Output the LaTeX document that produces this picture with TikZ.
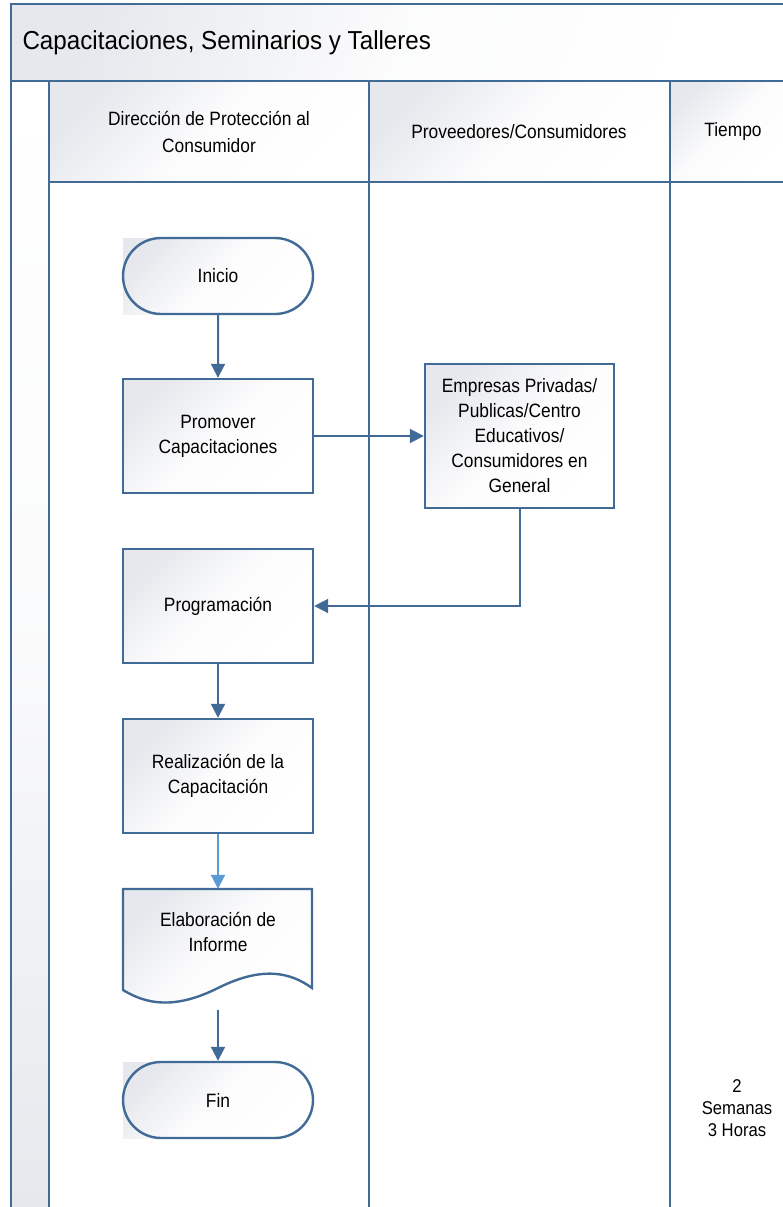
\documentclass[tikz,border=0pt]{standalone}
\usepackage{fontspec}
\setmainfont[FakeStretch=0.9]{Liberation Sans}
\newfontfamily\titlefont[FakeStretch=0.93]{Liberation Sans}
\usetikzlibrary{arrows.meta,shapes.misc}
\definecolor{lineblue}{RGB}{65,106,150}
\definecolor{lightblue}{RGB}{91,155,213}
\definecolor{boxgray}{RGB}{230,232,237}
\tikzset{
  shadefill/.style={top color=boxgray, bottom color=white, middle color=white!88!boxgray, shading angle=45},
  procbox/.style={draw=lineblue, line width=2.4pt, shadefill, minimum width=190pt, minimum height=114pt, inner sep=0pt, align=center, font=\fontsize{19.3}{25}\selectfont},
  termbox/.style={rounded rectangle, draw=lineblue, line width=2.4pt, shadefill, minimum width=190pt, minimum height=76pt, inner sep=0pt, align=center, font=\fontsize{19.3}{25}\selectfont},
  lanetext/.style={align=center, font=\fontsize{19.3}{27}\selectfont},
  laneline/.style={draw=lineblue, line width=2.4pt},
  flow/.style={draw=lineblue, line width=2pt, -{Triangle[length=14pt,width=14pt]}},
  flowlight/.style={draw=lightblue, line width=2pt, -{Triangle[length=14pt,width=14pt]}}
}
\begin{document}
\begin{tikzpicture}[x=1pt,y=-1pt]
\useasboundingbox (0,0) rectangle (783,1207);
% backgrounds
\shade[top color=boxgray, bottom color=white, middle color=white!85!boxgray, shading angle=70] (11,4) rectangle (783,81);
\shade[top color=white, bottom color=boxgray, middle color=white!80!boxgray] (11,81) rectangle (49,1207);
\shade[shadefill] (49,81) rectangle (369,182);
\shade[shadefill] (369,81) rectangle (670,182);
\shade[shadefill] (670,81) rectangle (783,182);
% lane lines
\draw[laneline] (11,1207) -- (11,4) -- (783,4);
\draw[laneline] (11,81) -- (783,81);
\draw[laneline] (49,81) -- (49,1207);
\draw[laneline] (49,182) -- (783,182);
\draw[laneline] (369,81) -- (369,1207);
\draw[laneline] (670,81) -- (670,1207);
% titles
\node[anchor=west, font=\titlefont\fontsize{26}{30}\selectfont] (title) at (19,43) {Capacitaciones, Seminarios y Talleres};
\node[lanetext] (h1) at (209,132) {Dirección de Protección al\\Consumidor};
\node[lanetext] (h2) at (519,132) {Proveedores/Consumidores};
\node[lanetext] (h3) at (733,132) {Tiempo};
% terminal backgrounds
\shade[shadefill] (123,238) rectangle (312,314);
\shade[shadefill] (123,1062) rectangle (312,1138);
% nodes
\node[termbox] (inicio) at (218,276) {Inicio};
\node[procbox] (prom) at (218,436) {Promover\\Capacitaciones};
\node[procbox, minimum width=189pt, minimum height=144pt] (emp) at (519.5,436) {Empresas Privadas/\\Publicas/Centro\\Educativos/\\Consumidores en\\General};
\node[procbox] (prog) at (218,606) {Programación};
\node[procbox] (real) at (218,776) {Realización de la\\Capacitación};
% document shape
\node[minimum width=190pt, minimum height=114pt, inner sep=0pt] (doc) at (218,946) {};
\shade[shadefill] (123,889) -- (312,889) -- (312,988) .. controls (290,972) and (262,966) .. (218,988) .. controls (174,1010) and (146,1004) .. (123,990) -- cycle;
\draw[draw=lineblue, line width=2.4pt, line join=miter] (123,889) -- (312,889) -- (312,988) .. controls (290,972) and (262,966) .. (218,988) .. controls (174,1010) and (146,1004) .. (123,990) -- cycle;
\node[align=center, font=\fontsize{19.3}{25}\selectfont] (doctext) at (218,932) {Elaboración de\\Informe};
\coordinate (docout) at (218,1010);
\node[termbox] (fin) at (218,1100) {Fin};
\node[align=center, font=\fontsize{18.5}{22}\selectfont] (tiempo) at (737,1108) {2\\Semanas\\3 Horas};
% connectors
\draw[flow] (inicio) -- (prom);
\draw[flow] (prom.east |- emp.west) -- (emp.west);
\draw[flow] (emp.south) |- (prog.east);
\draw[flow] (prog) -- (real);
\draw[flowlight] (real.south) -- (doc.north);
\draw[flow] (docout) -- (fin.north);
\end{tikzpicture}
\end{document}
